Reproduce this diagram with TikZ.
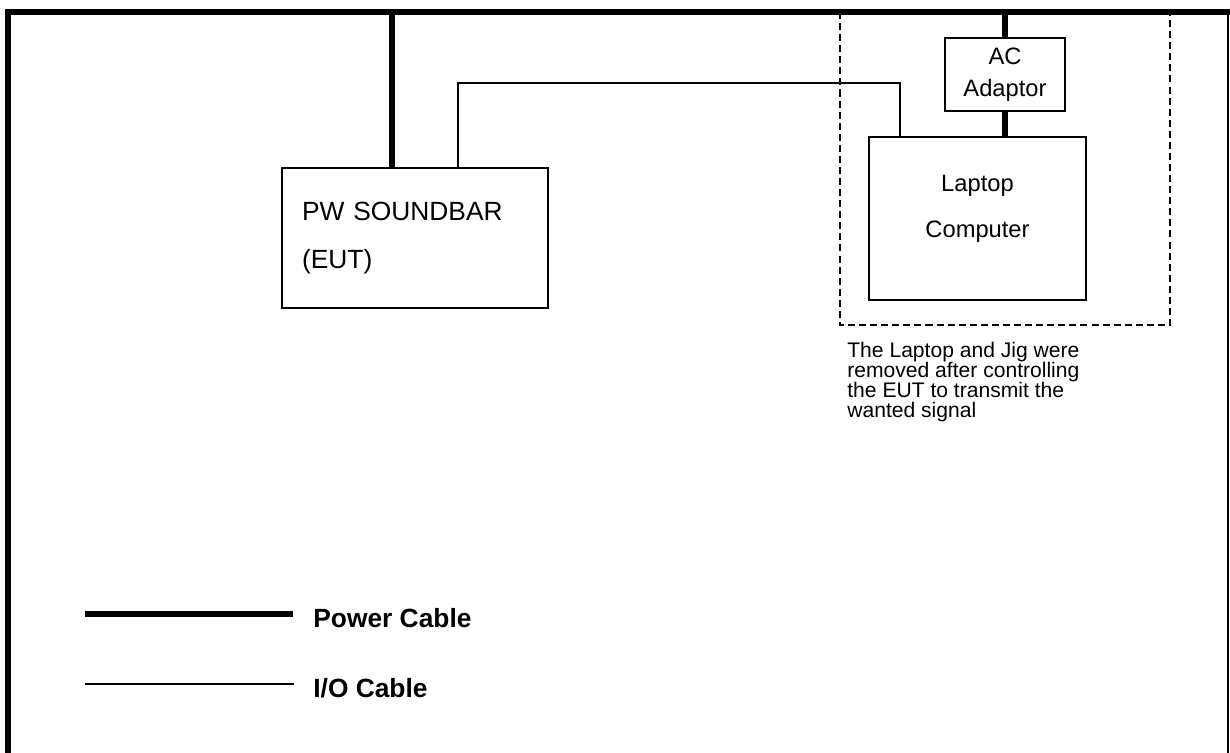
\documentclass[tikz,border=0pt]{standalone}
\usepackage{fontspec}
\setmainfont{Liberation Sans}
\usetikzlibrary{positioning,calc}
\newcommand\tightlines{\lineskiplimit=-10pt\relax}

\begin{document}
\begin{tikzpicture}[
    x=0.02cm, y=-0.02cm,
    box/.style={draw, line width=1.1pt, inner sep=0pt},
    pwr/.style={line width=3.5pt},
    io/.style={line width=0.85pt},
    frame/.style={line width=3pt},
    jig/.style={draw, line width=1.1pt, dash pattern=on 4pt off 2.3pt},
    lgd/.style={anchor=base west, inner sep=0pt, font=\fontsize{15}{18}\selectfont\bfseries}
]
\useasboundingbox (0,0) rectangle (1230,753);

% laptop area (removed after set-up)
\draw[jig] (840,12) rectangle (1170,325);

% outer frame
\draw[frame] (1230,12) -- (8,12) -- (8,753);
\draw[line width=1.1pt] (1228,12) -- (1228,753);

% units
\node[box, minimum width=5.32cm, minimum height=2.8cm, align=left, text width=4.52cm,
      inner xsep=0.4cm, font=\fontsize{15}{27}\selectfont] (sb) at (415,238) {PW SOUNDBAR\\(EUT)};
\node[box, minimum width=2.4cm, minimum height=1.46cm, align=center,
      font=\fontsize{13.5}{18}\selectfont] (ac) at (1005,74.5) {AC\\Adaptor};
\node[box, minimum width=4.34cm, minimum height=3.26cm] (lap) at (977.5,218.5) {};
\node[align=center, font=\fontsize{13.5}{26.5}\selectfont] (laptxt) at (977.5,209) {Laptop\\Computer};

\node[anchor=north west, inner sep=0pt, align=left,
      font=\fontsize{12}{11.4}\selectfont\tightlines] (note) at (847,342)
      {The Laptop and Jig were\\removed after controlling\\the EUT to transmit the\\wanted signal};

% cables
\coordinate (pwrA) at (392,12);
\coordinate (pwrB) at (1005,12);
\coordinate (iobend) at (900,83);
\draw[pwr] (pwrA) -- (pwrA |- sb.north);
\draw[pwr] (pwrB) -- (ac.north);
\draw[pwr] (ac.south) -- (ac.south |- lap.north);
\draw[io] ([xshift=0.86cm]sb.north) |- (iobend) -- (iobend |- lap.north);

% legend
\node[lgd] (lgpwr) at (313,627) {Power Cable};
\node[lgd] (lgio) at (313,697) {I/O Cable};
\draw[pwr] (85,614) -- (293,614);
\draw[io] (85,684) -- (294,684);
\end{tikzpicture}
\end{document}
